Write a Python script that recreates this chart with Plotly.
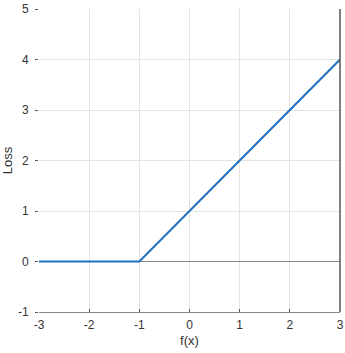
import plotly.graph_objects as go

x_vals = [-3, -1, 3]
loss_vals = [0, 0, 4]
x_ticks = [-3, -2, -1, 0, 1, 2, 3]
y_ticks = [-1, 0, 1, 2, 3, 4, 5]

fig = go.Figure()
fig.add_trace(go.Scatter(x=x_vals, y=loss_vals, mode="lines",
                         line=dict(color="#1f6fbf", width=2), showlegend=False))

font = dict(family="Liberation Sans, Arial, sans-serif", size=12, color="#333333")
fig.update_layout(
    width=345, height=353,
    margin=dict(l=39, r=5, t=9, b=41, autoexpand=False),
    paper_bgcolor="white", plot_bgcolor="white",
    font=font,
    xaxis=dict(range=[-3, 3], tickvals=x_ticks, ticktext=[str(v) for v in x_ticks],
               showgrid=True, gridcolor="#e3e3e3", gridwidth=1, automargin=False,
               zeroline=False, showline=True, linecolor="#8a8a8a", linewidth=1,
               ticks="inside", ticklen=3, tickcolor="#555", ticklabelstandoff=2,
               title=dict(text="f(x)", font=dict(size=13), standoff=4)),
    yaxis=dict(range=[-1, 5], tickvals=y_ticks, ticktext=[str(v) for v in y_ticks],
               showgrid=True, gridcolor="#e3e3e3", gridwidth=1, automargin=False,
               zeroline=True, zerolinecolor="#8a8a8a", zerolinewidth=1,
               showline=False, ticks="outside", ticklen=3, tickcolor="#555",
               ticklabelstandoff=4,
               title=dict(text="Loss", font=dict(size=13), standoff=8)),
    shapes=[dict(type="line", xref="paper", yref="paper", x0=1, x1=1, y0=0, y1=1,
                 line=dict(color="#555555", width=1.5))],
)
fig.write_html("out.html")
